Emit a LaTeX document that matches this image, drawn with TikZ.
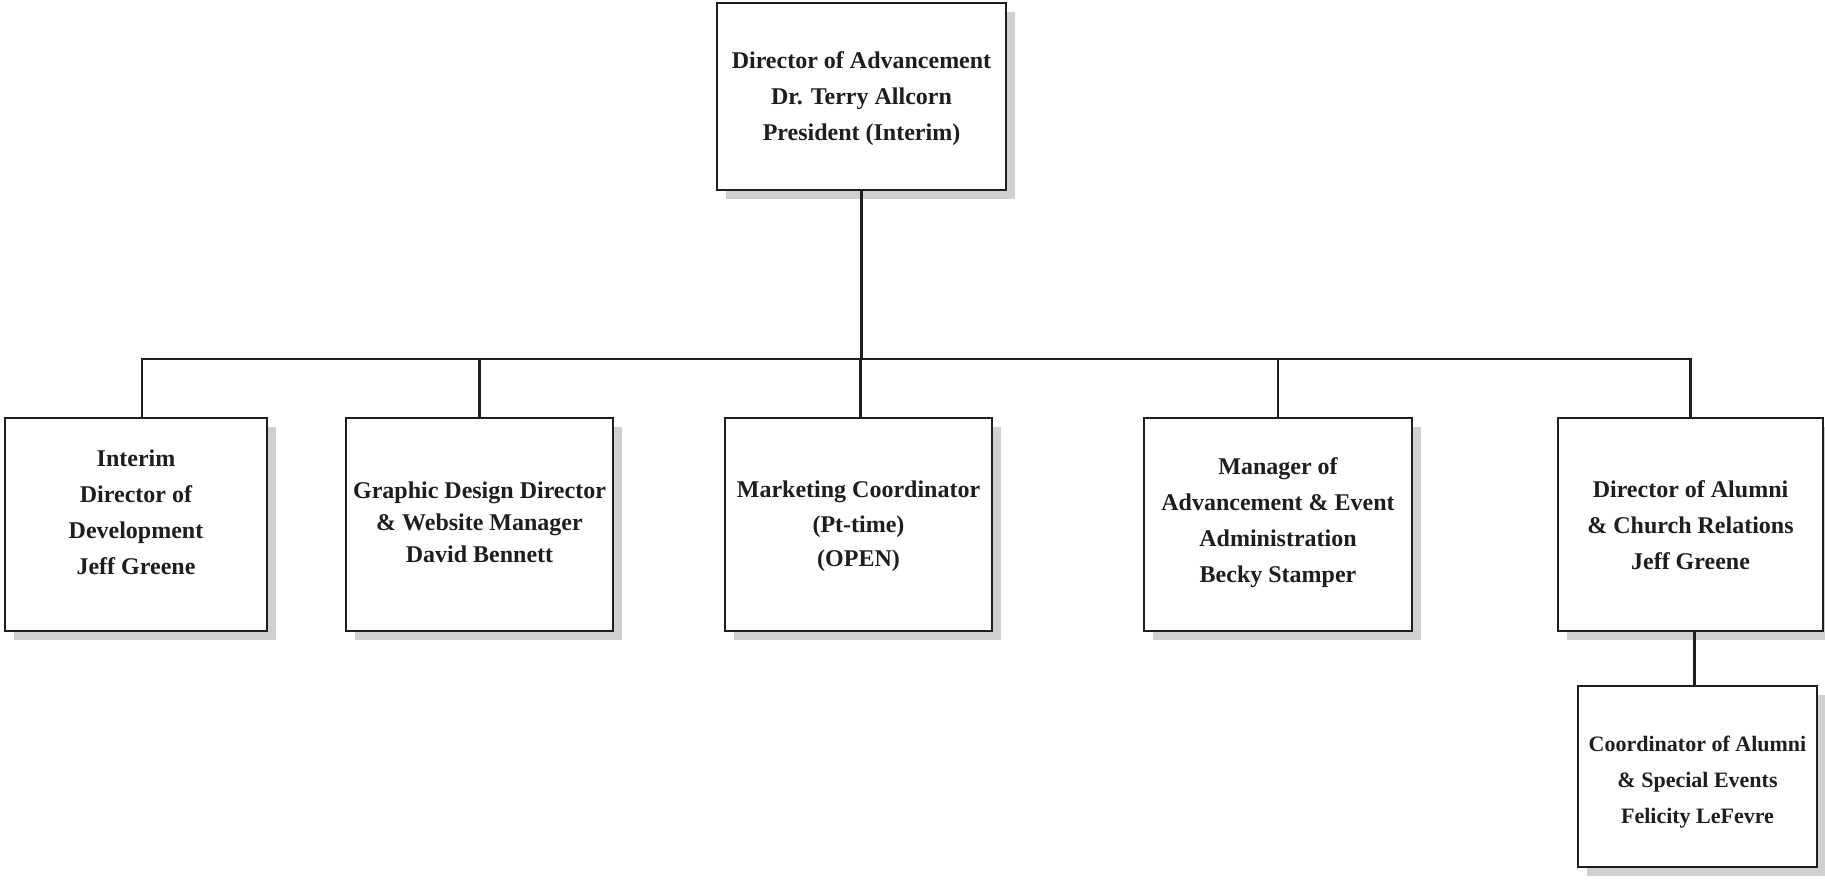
\documentclass[tikz,border=0pt]{standalone}
\usepackage{fontspec}
\setmainfont{Liberation Serif}
\usetikzlibrary{shadows}
\definecolor{shadowgray}{RGB}{208,208,208}
\definecolor{ink}{RGB}{30,30,30}
\tikzset{
  orgbox/.style={draw=ink, line width=2.8pt, fill=white, rectangle, inner sep=0pt,
    drop shadow={shadow xshift=9pt, shadow yshift=-9pt, fill=shadowgray, opacity=1}},
  orgtext/.style={inner sep=0pt, align=center, text=ink, font=\bfseries\fontsize{24}{36}\selectfont},
  link/.style={draw=ink, line width=2.4pt}
}
\begin{document}
\begin{tikzpicture}[x=1pt,y=-1pt]
\useasboundingbox (0,0) rectangle (1825,879);
\node[orgbox, minimum width=289pt, minimum height=187pt] (top) at (861.5,96.5) {};
\node[orgtext] (topt) at ([yshift=-2pt]top.center)
  {Director of Advancement\\Dr. Terry Allcorn\\President (Interim)};
\node[orgbox, minimum width=262pt, minimum height=213pt] (b1) at (136,524.5) {};
\node[orgtext] (b1t) at ([yshift=12pt]b1.center)
  {Interim\\Director of\\Development\\Jeff Greene};
\node[orgbox, minimum width=267pt, minimum height=213pt] (b2) at (479.5,524.5) {};
\node[orgtext, font=\bfseries\fontsize{24}{32}\selectfont] (b2t) at ([yshift=2.5pt]b2.center)
  {Graphic Design Director\\\& Website Manager\\David Bennett};
\node[orgbox, minimum width=267pt, minimum height=213pt] (b3) at (858.5,524.5) {};
\node[orgtext, font=\bfseries\fontsize{24}{34.5}\selectfont] (b3t) at ([yshift=-2pt]b3.center)
  {Marketing Coordinator\\(Pt-time)\\(OPEN)};
\node[orgbox, minimum width=268pt, minimum height=213pt] (b4) at (1278,524.5) {};
\node[orgtext] (b4t) at ([yshift=1.5pt]b4.center)
  {Manager of\\Advancement \& Event\\Administration\\Becky Stamper};
\node[orgbox, minimum width=265pt, minimum height=213pt] (b5) at (1690.5,524.5) {};
\node[orgtext] (b5t) at ([yshift=-1pt]b5.center)
  {Director of Alumni\\\& Church Relations\\Jeff Greene};
\node[orgbox, minimum width=239pt, minimum height=181pt] (c1) at (1697.5,776.5) {};
\node[orgtext, font=\bfseries\fontsize{22}{36}\selectfont] (c1t) at ([yshift=-6pt]c1.center)
  {Coordinator of Alumni\\\& Special Events\\Felicity LeFevre};
\coordinate (bus) at (861.5,359);
\draw[link] (top.south) -- (top.south |- bus);
\draw[link] ([xshift=6pt]b1.north) -- ([xshift=6pt]b1.north |- bus) -| (b5.north);
\draw[link] (b2.north) -- (b2.north |- bus);
\draw[link] ([xshift=2pt]b3.north) -- ([xshift=2pt]b3.north |- bus);
\draw[link] (b4.north) -- (b4.north |- bus);
\draw[link] ([xshift=-3pt]b5.south -| c1.north) -- ([xshift=-3pt]c1.north);
\end{tikzpicture}
\end{document}
